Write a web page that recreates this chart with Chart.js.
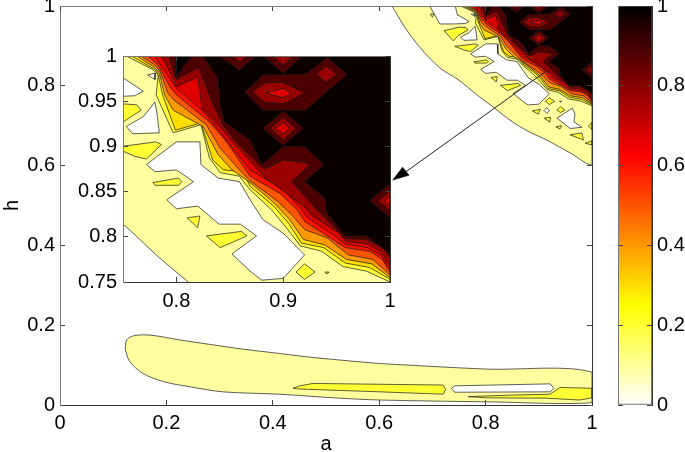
<!DOCTYPE html>
<html lang="en">
<head>
  <meta charset="UTF-8">
  <title>contour a / h</title>
  <script src="https://cdn.jsdelivr.net/npm/chart.js@4"></script>
  <style>
    html, body { margin: 0; padding: 0; background: white; }
    .stage { position: relative; width: 685px; height: 452px; overflow: hidden; }
    .stage canvas { position: absolute; left: 0; top: 0; }
  </style>
</head>
<body>
<div class="stage">
  <canvas id="main-chart" width="685" height="452"></canvas>
  <canvas id="inset-chart" width="685" height="452"></canvas>
  <canvas id="bar-chart" width="685" height="452"></canvas>
</div>
<script>
  const mainTicks = [0, 0.2, 0.4, 0.6, 0.8, 1];
  const insetTicksX = [0.8, 0.9, 1];
  const insetTicksY = [0.75, 0.8, 0.85, 0.9, 0.95, 1];
  const barTicks = [0, 0.2, 0.4, 0.6, 0.8, 1];
  const barStops = [0, 0.25, 0.625, 1];
  const barColors = ['#ffffff', '#ffff00', '#ff0000', '#000000'];

  const PALE = '#ffffa0', YELLOW = '#ffff33', GOLD = '#ffdd00', ORANGE = '#ff9900', ORANGERED = '#ff5500';
  const RED = '#ff1100', C7 = '#e00000', C8 = '#990000', C9 = '#4d0000', BLACK = '#0a0000', WHITE = '#ffffff';

  // upper right band, each level is the region above its contour
  const level1 = [[.624,1],[.648,.947],[.676,.897],[.714,.845],[.750,.814],[.782,.779],[.812,.749],[.851,.709],[.883,.684],[.915,.664],[.959,.632],[1,.606],[1,1]];
  const level2 = [[.753,1],[.778,.985],[.783,.979],[.781,.957],[.797,.915],[.823,.924],[.831,.887],[.841,.871],[.859,.867],[.869,.852],[.889,.830],[.903,.810],[.916,.790],[.936,.784],[.956,.767],[.978,.762],[1,.75],[1,1]];
  const level3 = [[.758,1],[.780,.985],[.783,.979],[.787,.957],[.799,.918],[.823,.926],[.834,.885],[.844,.874],[.862,.872],[.869,.856],[.891,.834],[.905,.815],[.917,.793],[.938,.788],[.958,.771],[.981,.766],[1,.753],[1,1]];
  const level4 = [[.763,1],[.780,.987],[.784,.981],[.789,.957],[.797,.940],[.819,.926],[.825,.922],[.839,.891],[.852,.874],[.869,.860],[.892,.837],[.906,.819],[.919,.797],[.939,.791],[.959,.775],[.983,.770],[1,.755],[1,1]];
  const level5 = [[.767,1],[.781,.989],[.785,.982],[.792,.959],[.798,.951],[.828,.924],[.841,.898],[.859,.874],[.869,.862],[.895,.839],[.909,.823],[.920,.808],[.941,.799],[.961,.780],[.984,.775],[1,.758],[1,1]];
  const level6 = [[.773,1],[.783,.990],[.786,.983],[.795,.964],[.800,.957],[.831,.927],[.847,.905],[.865,.874],[.869,.867],[.897,.848],[.913,.830],[.920,.817],[.944,.799],[.958,.788],[.981,.784],[.9925,.775],[1,.761],[1,1]];
  const level7 = [[.780,1],[.784,.992],[.788,.985],[.800,.964],[.824,.940],[.838,.920],[.850,.902],[.869,.874],[.900,.852],[.916,.832],[.923,.821],[.948,.801],[.958,.792],[.979,.788],[.991,.780],[1,.764],[1,1]];
  const level8 = [[.786,1],[.794,.982],[.800,.966],[.820,.977],[.824,.942],[.841,.921],[.853,.904],[.872,.880],[.883,.865],[.904,.847],[.919,.834],[.927,.823],[.951,.805],[.958,.795],[.979,.792],[.991,.784],[1,.768],[1,1]];
  const level9 = [[.793,1],[.799,.976],[.800,.974],[.821,.987],[.833,.950],[.844,.922],[.858,.902],[.873,.885],[.877,.880],[.883,.875],[.892,.880],[.900,.885],[.920,.882],[.925,.880],[.908,.861],[.930,.832],[.958,.798],[.978,.797],[.994,.788],[1,.777],[1,1]];
  const level10 = [[.825,1],[.839,.975],[.841,.944],[.845,.927],[.869,.907],[.880,.880],[.900,.900],[.920,.900],[.938,.880],[.920,.861],[.939,.843],[.941,.826],[.958,.801],[.978,.801],[.999,.782],[1,.782],[1,1]];
  const level10Corner = [[.800,1],[.800,.977],[.814,1]];

  // white holes inside the pale band
  const holeTop = [[.695,1],[.714,.955],[.739,.955],[.761,.956],[.769,.961],[.750,.976],[.747,.977],[.743,1]];
  const holeTiny1 = [[.696,.980],[.703,.980],[.700,.972]];
  const holeTiny2 = [[.773,.979],[.780,.981],[.780,.974]];
  const holeMid = [[.753,.922],[.759,.914],[.784,.915],[.782,.935],[.780,.949],[.769,.933]];
  const holeBig = [[.772,.880],[.800,.905],[.822,.905],[.823,.880],[.839,.865],[.859,.861],[.869,.841],[.881,.819],[.900,.804],[.920,.780],[.900,.754],[.880,.752],[.869,.762],[.852,.781],[.875,.801],[.860,.814],[.840,.814],[.820,.834],[.800,.831],[.791,.841],[.816,.861],[.800,.874],[.780,.872]];
  const holeLow = [[.934,.719],[.963,.744],[.968,.729],[.966,.710],[.981,.696],[.959,.693]];
  const holeDiamond = [[.910,.738],[.915,.745],[.920,.738],[.915,.731]];

  // yellow islands inside the pale band
  const islandA = [[.722,.938],[.750,.947],[.763,.946],[.767,.940],[.750,.927],[.739,.913]];
  const islandB = [[.742,.899],[.781,.905],[.786,.902],[.772,.886],[.761,.889]];
  const islandC = [[.778,.860],[.802,.865],[.805,.861],[.802,.857],[.780,.857]];
  const islandD = [[.810,.821],[.822,.823],[.820,.810]];
  const islandE = [[.828,.801],[.861,.806],[.866,.801],[.841,.788]];
  const islandF = [[.912,.761],[.920,.770],[.930,.761],[.920,.753]];
  const islandG = [[.939,.761],[.943,.761],[.941,.759]];
  const islandH = [[.888,.737],[.903,.741],[.899,.729]];
  const islandI = [[.934,.739],[.941,.748],[.949,.739],[.941,.733]];
  const islandJ = [[.910,.719],[.922,.721],[.921,.709]];
  const islandK = [[.932,.697],[.943,.700],[.940,.692]];
  const islandL = [[.959,.677],[.981,.682],[.984,.664]];
  const islandM = [[.987,.656],[1,.662],[1,.652]];
  const islandN = [[.993,.699],[1,.708],[1,.691]];

  // lighter patches inside the black region
  const vLeftOuter = [[.840,1],[.859,.984],[.874,1]];
  const vLeftInner = [[.853,1],[.859,.993],[.866,1]];
  const vRightOuter = [[.881,1],[.900,.981],[.918,1]];
  const vRightInner = [[.890,1],[.900,.990],[.909,1]];
  const blobOuter = [[.864,.960],[.881,.979],[.921,.980],[.941,.998],[.960,.980],[.921,.940],[.881,.940]];
  const blobMid = [[.871,.960],[.883,.970],[.899,.971],[.920,.959],[.900,.947],[.883,.949]];
  const blobInner = [[.883,.959],[.900,.964],[.908,.958],[.900,.954]];
  const blobDiamond = [[.931,.980],[.940,.989],[.950,.980],[.940,.971]];
  const midOuter = [[.881,.920],[.900,.939],[.919,.920],[.900,.901]];
  const midMid = [[.888,.920],[.900,.932],[.912,.920],[.900,.907]];
  const midInner = [[.893,.920],[.900,.926],[.906,.920],[.900,.914]];
  const sideOuter = [[.981,.840],[1,.859],[1,.821]];
  const sideMid = [[.989,.840],[1,.851],[1,.829]];
  const sideInner = [[.995,.840],[1,.845],[1,.835]];

  // lower lobe
  const lobe = [[.1225,.140],[.1255,.163],[.140,.174],[.171,.175],[.225,.163],[.281,.152],[.344,.140],[.407,.130],[.469,.120],[.582,.106],[.626,.102],[.802,.090],[1,.082],[1,.006],[.802,.008],[.601,.0125],[.526,.017],[.413,.027],[.306,.033],[.243,.046],[.196,.058],[.156,.079],[.131,.109]];
  const lobeYellow = [[.438,.042],[.4505,.048],[.4755,.054],[.601,.052],[.720,.050],[.725,.039],[.720,.027],[.601,.033],[.4505,.040]];
  const lobeHole = [[.736,.042],[.742,.048],[.921,.053],[.9285,.042],[.921,.033],[.742,.032]];
  const lobeRight = [[.767,.021],[.851,.025],[.921,.027],[.940,.044],[1,.042],[1,.018],[.977,.0125],[.913,.017],[.802,.018]];

  const arrowLine = [[.917,.840],[.635,.570]];
  const arrowHead = [[.6255,.564],[.656,.576],[.644,.596]];

  const LINE = '#1a1a1a';
  const FONT = { family: '"Liberation Sans", Arial, sans-serif', size: 20 };

  function polygon(points, color, tension) {
    const closed = points.concat([points[0]]);
    return {
      data: closed.map(p => ({ x: p[0], y: p[1] })),
      showLine: true,
      fill: 'shape',
      backgroundColor: color,
      borderColor: LINE,
      borderWidth: 0.7,
      tension: tension || 0,
      pointRadius: 0,
      clip: 0
    };
  }

  function bandLayers() {
    return [
      polygon(level1, PALE, 0.3),
      polygon(holeTop, WHITE), polygon(holeTiny1, PALE), polygon(holeTiny2, WHITE), polygon(holeMid, WHITE),
      polygon(holeBig, WHITE), polygon(holeLow, WHITE), polygon(holeDiamond, WHITE),
      polygon(islandA, YELLOW), polygon(islandB, YELLOW), polygon(islandC, YELLOW), polygon(islandD, YELLOW),
      polygon(islandE, YELLOW), polygon(islandF, YELLOW), polygon(islandG, YELLOW), polygon(islandH, YELLOW),
      polygon(islandI, YELLOW), polygon(islandJ, YELLOW), polygon(islandK, YELLOW), polygon(islandL, YELLOW),
      polygon(islandM, YELLOW), polygon(islandN, YELLOW),
      polygon(level2, YELLOW), polygon(level3, GOLD), polygon(level4, ORANGE), polygon(level5, ORANGERED),
      polygon(level6, RED), polygon(level7, C7), polygon(level8, C8), polygon(level9, C9),
      polygon(level10, BLACK), polygon(level10Corner, BLACK),
      polygon(vLeftOuter, C9), polygon(vLeftInner, C8), polygon(vRightOuter, C9), polygon(vRightInner, C8),
      polygon(blobOuter, C9), polygon(blobMid, C8), polygon(blobInner, C7), polygon(blobDiamond, C8),
      polygon(midOuter, C9), polygon(midMid, C8), polygon(midInner, C7),
      polygon(sideOuter, C9), polygon(sideMid, C8), polygon(sideInner, C7)
    ];
  }

  function mainLayers() {
    return bandLayers().concat([
      polygon(lobe, PALE, 0.3), polygon(lobeYellow, YELLOW), polygon(lobeHole, WHITE), polygon(lobeRight, YELLOW),
      {
        data: arrowLine.map(p => ({ x: p[0], y: p[1] })),
        showLine: true, fill: false, borderColor: '#222222', borderWidth: 1, pointRadius: 0, clip: 0
      },
      polygon(arrowHead, '#000000')
    ]);
  }

  // inward ticks on all four sides, size is the fixed thickness of the axis box
  function axis(position, min, max, tickValues, size, labelPadding, labelled, title) {
    const horizontal = position === 'bottom' || position === 'top';
    const color = (position === 'left' || position === 'top') ? '#777777' : '#333333';
    return {
      type: 'linear',
      position,
      min,
      max,
      afterBuildTicks: s => { s.ticks = tickValues.map(value => ({ value })); },
      afterFit: s => {
        if (horizontal) s.height = size; else s.width = size;
        s.paddingTop = s.paddingBottom = s.paddingLeft = s.paddingRight = 0;
      },
      border: { color, width: 1, z: 1 },
      grid: { drawOnChartArea: false, tickLength: -5, color: '#444444', z: 1 },
      ticks: {
        display: labelled,
        autoSkip: false,
        maxRotation: 0,
        padding: labelPadding,
        color: '#000000',
        font: FONT,
        callback: v => String(v)
      },
      title: title
        ? { display: true, text: title, color: '#000000', font: FONT, padding: horizontal ? { top: 0, bottom: -4.5 } : { top: 0, bottom: 0 } }
        : { display: false }
    };
  }

  function contourChart(id, datasets, xmin, ymin, ticksX, ticksY, padding, xsize, ysize, labels, titles) {
    new Chart(document.getElementById(id), {
      type: 'scatter',
      data: { datasets: datasets.reverse() },
      options: {
        responsive: false,
        animation: false,
        events: [],
        layout: { padding },
        plugins: { legend: { display: false }, tooltip: { enabled: false } },
        scales: {
          x: axis('bottom', xmin, 1, ticksX, xsize, labels.x, true, titles.x),
          y: axis('left', ymin, 1, ticksY, ysize, labels.y, true, titles.y),
          x2: axis('top', xmin, 1, ticksX, 0, 0, false),
          y2: axis('right', ymin, 1, ticksY, 0, 0, false)
        }
      }
    });
  }

  contourChart('main-chart', mainLayers(), 0, 0, mainTicks, mainTicks,
    { left: 0, right: 93, top: 6, bottom: 0 }, 47, 60, { x: 11, y: 10 }, { x: 'a', y: 'h' });

  contourChart('inset-chart', bandLayers(), 0.75, 0.75, insetTicksX, insetTicksY,
    { left: 63, right: 295, top: 56, bottom: 130 }, 40, 60, { x: 12, y: 11 }, {});

  new Chart(document.getElementById('bar-chart'), {
    type: 'bar',
    data: {
      labels: ['colorbar'],
      datasets: [{
        data: [[0, 1]],
        barPercentage: 1,
        categoryPercentage: 1,
        borderColor: '#444444',
        borderWidth: 1,
        borderSkipped: false,
        backgroundColor: c => {
          const area = c.chart.chartArea;
          if (!area) return barColors[0];
          const g = c.chart.ctx.createLinearGradient(0, area.bottom, 0, area.top);
          barStops.forEach((s, i) => g.addColorStop(s, barColors[i]));
          return g;
        }
      }]
    },
    options: {
      responsive: false,
      animation: false,
      events: [],
      layout: { padding: { left: 618, right: 0, top: 6, bottom: 47 } },
      plugins: { legend: { display: false }, tooltip: { enabled: false } },
      scales: {
        x: { display: false },
        y: axis('right', 0, 1, barTicks, 33, 10, true),
        y2: axis('left', 0, 1, barTicks, 0, 0, false)
      }
    }
  });
</script>
</body>
</html>
